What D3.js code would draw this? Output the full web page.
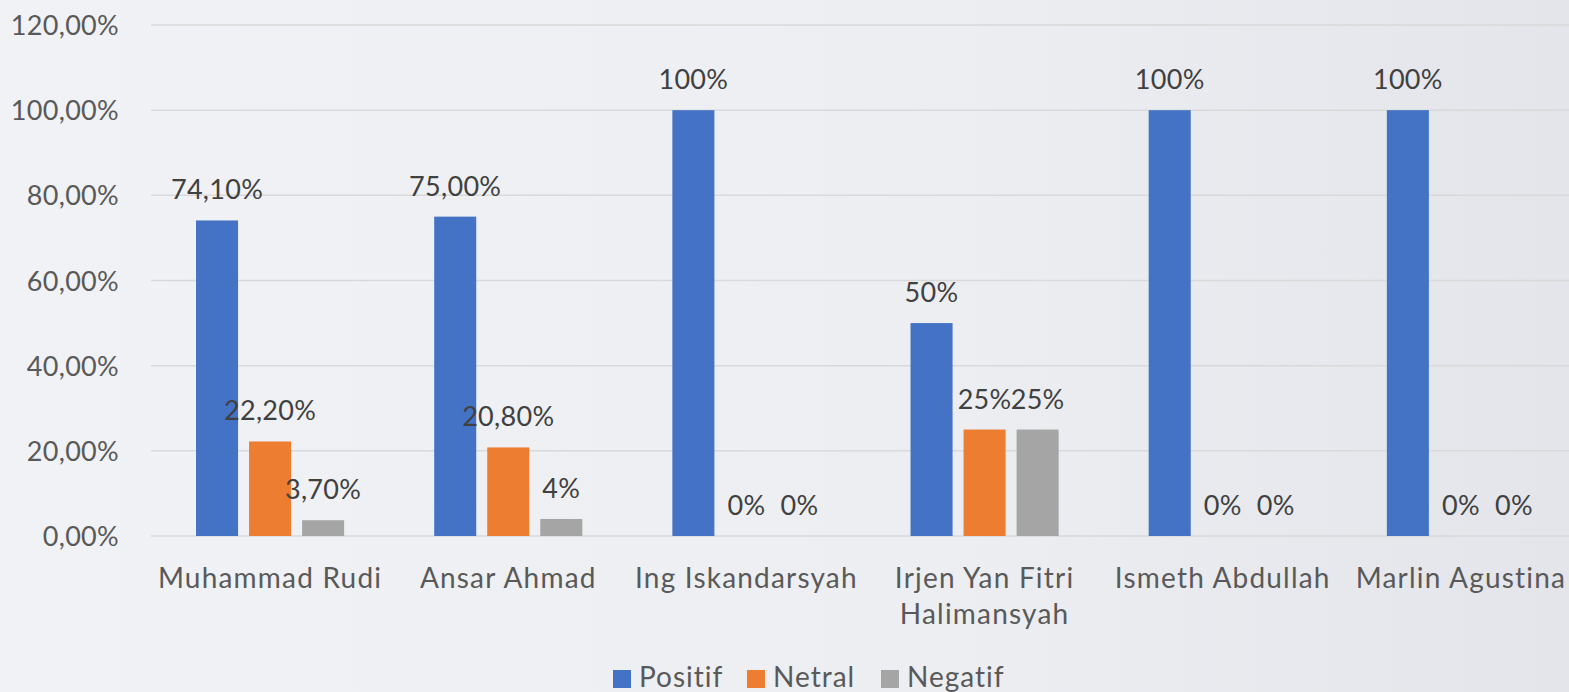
<!DOCTYPE html>
<html>
<head>
<meta charset="utf-8">
<script src="https://cdn.jsdelivr.net/npm/d3@7"></script>
<style>
  html, body { margin: 0; padding: 0; overflow: hidden; }
  body { width: 1569px; height: 692px; }
  text { font-family: Lato, "Open Sans", sans-serif; }
</style>
</head>
<body>
<svg id="chart" width="1569" height="692"></svg>
<script>
// chart data
var candidates = [["Muhammad Rudi"], ["Ansar Ahmad"], ["Ing Iskandarsyah"],
                  ["Irjen Yan Fitri", "Halimansyah"], ["Ismeth Abdullah"], ["Marlin Agustina"]];
var series = ["Positif", "Netral", "Negatif"];
var colors = ["#4472c4", "#ed7d31", "#a5a5a5"];
var positif = [74.1, 75, 100, 50, 100, 100];
var netral = [22.2, 20.8, 0, 25, 0, 0];
var negatif = [3.7, 4, 0, 25, 0, 0];
var positifLabels = ["74,10%", "75,00%", "100%", "50%", "100%", "100%"];
var netralLabels = ["22,20%", "20,80%", "0%", "25%", "0%", "0%"];
var negatifLabels = ["3,70%", "4%", "0%", "25%", "0%", "0%"];
var yTicks = [0, 20, 40, 60, 80, 100, 120];
var yTickLabels = ["0,00%", "20,00%", "40,00%", "60,00%", "80,00%", "100,00%", "120,00%"];

var values = [positif, netral, negatif];
var labels = [positifLabels, netralLabels, negatifLabels];

var svg = d3.select('#chart');

// background
var defs = svg.append('defs');
var grad = defs.append('linearGradient').attr('id', 'bg')
    .attr('x1', '0%').attr('y1', '0%').attr('x2', '100%').attr('y2', '0%');
grad.append('stop').attr('offset', '0%').attr('stop-color', '#f1f2f5');
grad.append('stop').attr('offset', '60%').attr('stop-color', '#eceef2');
grad.append('stop').attr('offset', '100%').attr('stop-color', '#e3e5ea');
svg.append('rect').attr('width', 1569).attr('height', 692).attr('fill', 'url(#bg)');

var x0 = d3.scaleBand()
    .domain(d3.range(candidates.length))
    .range([151, 1580]);

var x1 = d3.scaleBand()
    .domain(series)
    .range([0, x0.bandwidth()])
    .paddingInner(0.2075)
    .paddingOuter(0.849);

var y = d3.scaleLinear()
    .domain([0, 120])
    .range([536, 25]);

// gridlines
svg.append('g').selectAll('line')
    .data(yTicks)
    .enter().append('line')
    .attr('x1', 151).attr('x2', 1569)
    .attr('y1', function(d) {return y(d)})
    .attr('y2', function(d) {return y(d)})
    .attr('stroke', '#d9d9d9')
    .attr('stroke-width', 1.5);

// y tick labels
svg.append('g').selectAll('text')
    .data(yTicks)
    .enter().append('text')
    .attr('x', 119)
    .attr('y', function(d) {return y(d) + 10})
    .attr('text-anchor', 'end')
    .attr('font-size', 27)
    .attr('letter-spacing', 0.3)
    .attr('fill', '#595959')
    .text(function(d, i) {return yTickLabels[i]});

// bars
series.forEach(function(s, si) {
    var g = svg.append('g');
    g.selectAll('rect')
	.data(values[si])
	.enter().append('rect')
	.attr('x', function(d, i) {return x0(i) + x1(s)})
	.attr('width', x1.bandwidth())
	.attr('y', function(d) {return y(d)})
	.attr('height', function(d) {return y(0) - y(d)})
	.attr('fill', colors[si]);
    g.selectAll('text')
	.data(values[si])
	.enter().append('text')
	.attr('x', function(d, i) {return x0(i) + x1(s) + x1.bandwidth() / 2})
	.attr('y', function(d) {return y(d) - 21})
	.attr('text-anchor', 'middle')
	.attr('font-size', 27)
	.attr('letter-spacing', 0.3)
	.attr('fill', '#404040')
	.text(function(d, i) {return labels[si][i]});
});

// category labels
var cat = svg.append('g').selectAll('text')
    .data(candidates)
    .enter().append('text')
    .attr('x', function(d, i) {return x0(i) + x0.bandwidth() / 2})
    .attr('y', 588)
    .attr('text-anchor', 'middle')
    .attr('font-size', 28)
    .attr('letter-spacing', 1.2)
    .attr('fill', '#595959');
cat.each(function(d, i) {
    var t = d3.select(this);
    d.forEach(function(line, li) {
	t.append('tspan')
	    .attr('x', x0(i) + x0.bandwidth() / 2)
	    .attr('dy', li == 0 ? 0 : 36)
	    .text(line);
    });
});

// legend
var legendX = [613, 747, 881];
var leg = svg.append('g').selectAll('g')
    .data(series)
    .enter().append('g')
    .attr('transform', function(d, i) {return 'translate(' + legendX[i] + ',670)'});
leg.append('rect')
    .attr('width', 18).attr('height', 18)
    .attr('fill', function(d, i) {return colors[i]});
leg.append('text')
    .attr('x', 26).attr('y', 17)
    .attr('font-size', 28)
    .attr('letter-spacing', 1)
    .attr('fill', '#595959')
    .text(function(d) {return d});
</script>
</body>
</html>
